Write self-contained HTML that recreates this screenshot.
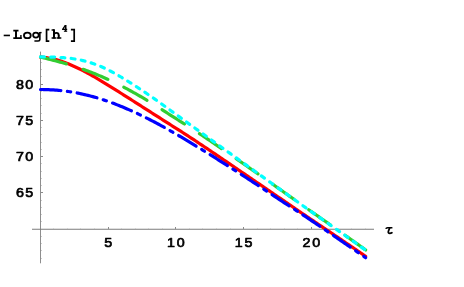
<!DOCTYPE html>
<html><head><meta charset="utf-8"><title>plot</title>
<style>
html,body{margin:0;padding:0;background:#fff;}
body{width:464px;height:287px;overflow:hidden;font-family:"Liberation Sans",sans-serif;}
svg{display:block;}
.tk{font-family:"Liberation Sans",sans-serif;font-weight:normal;font-size:13.6px;letter-spacing:1.6px;fill:#000;stroke:#000;stroke-width:0.7px;stroke-linejoin:round;}
.c{fill:none;stroke-width:3.2;stroke-linecap:round;stroke-linejoin:round;}
</style></head><body>
<svg width="464" height="287" viewBox="0 0 464 287">
<rect width="464" height="287" fill="#fff"/>
<g class="ax">
<rect x="40" y="51.6" width="1" height="211.7" fill="#8e8e8e"/>
<rect x="32" y="228.75" width="342" height="1" fill="#7c7c7c"/>
</g>
<g class="tks">
<rect x="53" y="228" width="1" height="1" fill="#cdcdcd"/>
<rect x="67" y="228" width="1" height="1" fill="#cdcdcd"/>
<rect x="80" y="228" width="1" height="1" fill="#cdcdcd"/>
<rect x="94" y="228" width="1" height="1" fill="#cdcdcd"/>
<rect x="108" y="227" width="1" height="2" fill="#8a8a8a"/>
<rect x="121" y="228" width="1" height="1" fill="#cdcdcd"/>
<rect x="135" y="228" width="1" height="1" fill="#cdcdcd"/>
<rect x="148" y="228" width="1" height="1" fill="#cdcdcd"/>
<rect x="162" y="228" width="1" height="1" fill="#cdcdcd"/>
<rect x="175" y="227" width="1" height="2" fill="#8a8a8a"/>
<rect x="189" y="228" width="1" height="1" fill="#cdcdcd"/>
<rect x="202" y="228" width="1" height="1" fill="#cdcdcd"/>
<rect x="216" y="228" width="1" height="1" fill="#cdcdcd"/>
<rect x="230" y="228" width="1" height="1" fill="#cdcdcd"/>
<rect x="243" y="227" width="1" height="2" fill="#8a8a8a"/>
<rect x="257" y="228" width="1" height="1" fill="#cdcdcd"/>
<rect x="270" y="228" width="1" height="1" fill="#cdcdcd"/>
<rect x="284" y="228" width="1" height="1" fill="#cdcdcd"/>
<rect x="297" y="228" width="1" height="1" fill="#cdcdcd"/>
<rect x="311" y="227" width="1" height="2" fill="#8a8a8a"/>
<rect x="324" y="228" width="1" height="1" fill="#cdcdcd"/>
<rect x="338" y="228" width="1" height="1" fill="#cdcdcd"/>
<rect x="351" y="228" width="1" height="1" fill="#cdcdcd"/>
<rect x="365" y="228" width="1" height="1" fill="#cdcdcd"/>
<rect x="41" y="258" width="1" height="1" fill="#cdcdcd"/>
<rect x="41" y="250" width="1" height="1" fill="#cdcdcd"/>
<rect x="41" y="243" width="1" height="1" fill="#cdcdcd"/>
<rect x="41" y="236" width="1" height="1" fill="#cdcdcd"/>
<rect x="41" y="221" width="1" height="1" fill="#cdcdcd"/>
<rect x="41" y="214" width="1" height="1" fill="#cdcdcd"/>
<rect x="41" y="207" width="1" height="1" fill="#cdcdcd"/>
<rect x="41" y="200" width="1" height="1" fill="#cdcdcd"/>
<rect x="41" y="192" width="2" height="1" fill="#8a8a8a"/>
<rect x="41" y="185" width="1" height="1" fill="#cdcdcd"/>
<rect x="41" y="178" width="1" height="1" fill="#cdcdcd"/>
<rect x="41" y="171" width="1" height="1" fill="#cdcdcd"/>
<rect x="41" y="163" width="1" height="1" fill="#cdcdcd"/>
<rect x="41" y="156" width="2" height="1" fill="#8a8a8a"/>
<rect x="41" y="149" width="1" height="1" fill="#cdcdcd"/>
<rect x="41" y="142" width="1" height="1" fill="#cdcdcd"/>
<rect x="41" y="134" width="1" height="1" fill="#cdcdcd"/>
<rect x="41" y="127" width="1" height="1" fill="#cdcdcd"/>
<rect x="41" y="120" width="2" height="1" fill="#8a8a8a"/>
<rect x="41" y="113" width="1" height="1" fill="#cdcdcd"/>
<rect x="41" y="105" width="1" height="1" fill="#cdcdcd"/>
<rect x="41" y="98" width="1" height="1" fill="#cdcdcd"/>
<rect x="41" y="91" width="1" height="1" fill="#cdcdcd"/>
<rect x="41" y="84" width="2" height="1" fill="#8a8a8a"/>
<rect x="41" y="76" width="1" height="1" fill="#cdcdcd"/>
<rect x="41" y="69" width="1" height="1" fill="#cdcdcd"/>
<rect x="41" y="62" width="1" height="1" fill="#cdcdcd"/>
<rect x="41" y="55" width="1" height="1" fill="#cdcdcd"/>
</g>
<g style="will-change:transform">
<text class="tk" transform="translate(108.95,246.50) scale(1.05,1)" text-anchor="middle">5</text>
<text class="tk" transform="translate(176.70,246.50) scale(1.05,1)" text-anchor="middle">10</text>
<text class="tk" transform="translate(244.45,246.50) scale(1.05,1)" text-anchor="middle">15</text>
<text class="tk" transform="translate(312.20,246.50) scale(1.05,1)" text-anchor="middle">20</text>
<text class="tk" style="letter-spacing:1.25px" transform="translate(34.56,197.35) scale(1.05,1)" text-anchor="end">65</text>
<text class="tk" style="letter-spacing:1.25px" transform="translate(34.56,161.10) scale(1.05,1)" text-anchor="end">70</text>
<text class="tk" style="letter-spacing:1.25px" transform="translate(34.56,124.85) scale(1.05,1)" text-anchor="end">75</text>
<text class="tk" style="letter-spacing:1.25px" transform="translate(34.56,88.60) scale(1.05,1)" text-anchor="end">80</text>
</g>
<g fill="none" stroke="#000" stroke-width="1.7" stroke-linecap="butt" stroke-linejoin="miter">
<path d="M3.7,35.45 H9.95" stroke-width="1.6"/>
<path d="M13.3,30.7 H18.5 M13.3,38.05 H21.6"/>
<path d="M16,30.7 V38" stroke-width="1.95"/>
<path d="M20.9,38.9 V35" stroke-width="1.4"/>
<ellipse cx="27.35" cy="35.4" rx="3.4" ry="2.8" stroke-width="1.8"/>
<ellipse cx="35.9" cy="35" rx="2.8" ry="2.5" stroke-width="1.75"/>
<path d="M39.85,32 V39.4 Q39.85,41 38.1,41 H34.4" stroke-width="1.6"/>
<path d="M39.85,32.6 H41.6" stroke-width="1.4"/>
<path d="M49.3,29.65 H46.55 V41.1 H49.3"/>
<path d="M54,29.2 V38.6 M58.75,35 V38.6" stroke-width="1.95"/>
<path d="M51.6,29.9 H54 M51.6,37.9 H56.2 M56.7,37.9 H61.3" stroke-width="1.45"/>
<path d="M54,35 Q54.1,32.8 56.4,32.8 Q58.75,32.8 58.75,35.3" stroke-width="1.8"/>
<path d="M70.9,29.65 H74.2 V41.1 H70.9"/>
<path d="M65.65,25 V31.4" stroke-width="1.7"/>
<path d="M65.3,25.4 L62.6,29.45 H67.2" stroke-width="1.25" stroke-linejoin="round"/>
<path d="M63.9,31.25 H67.2" stroke-width="1"/>
<path d="M385.9,228.9 Q386.2,227.7 387.6,227.7 H392.4" stroke-width="1.6"/>
<path d="M389.7,227.9 L388.4,231.3 Q387.8,233.3 389.8,233.3 Q390.9,233.3 391.9,232.7" stroke-width="1.75" stroke-linecap="round"/>
</g>
<path class="c" stroke="#ff0000" d="M40.50,57.17 L42.13,57.20 L43.77,57.31 L45.40,57.49 L47.04,57.71 L48.67,57.98 L50.31,58.28 L51.94,58.62 L53.57,58.97 L55.21,59.35 L56.84,59.76 L58.48,60.22 L60.11,60.73 L61.74,61.29 L63.38,61.89 L65.01,62.52 L66.65,63.18 L68.28,63.85 L69.92,64.54 L71.55,65.25 L73.18,65.97 L74.82,66.72 L76.45,67.47 L78.09,68.24 L79.72,69.03 L81.35,69.83 L82.99,70.66 L84.62,71.50 L86.26,72.37 L87.89,73.25 L89.53,74.16 L91.16,75.07 L92.79,76.00 L94.43,76.95 L96.06,77.91 L97.70,78.87 L99.33,79.85 L100.96,80.84 L102.60,81.83 L104.23,82.83 L105.87,83.83 L107.50,84.84 L109.14,85.85 L110.77,86.86 L112.40,87.88 L114.04,88.89 L115.67,89.91 L117.31,90.93 L118.94,91.95 L120.57,92.98 L122.21,94.01 L123.84,95.05 L125.48,96.08 L127.11,97.12 L128.75,98.15 L130.38,99.19 L132.01,100.23 L133.65,101.27 L135.28,102.32 L136.92,103.36 L138.55,104.41 L140.18,105.46 L141.82,106.50 L143.45,107.55 L145.09,108.59 L146.72,109.63 L148.36,110.67 L149.99,111.70 L151.62,112.74 L153.26,113.78 L154.89,114.82 L156.53,115.86 L158.16,116.91 L159.79,117.95 L161.43,119.00 L163.06,120.04 L164.70,121.09 L166.33,122.14 L167.97,123.18 L169.60,124.22 L171.23,125.26 L172.87,126.30 L174.50,127.33 L176.14,128.36 L177.77,129.40 L179.40,130.43 L181.04,131.47 L182.67,132.51 L184.31,133.56 L185.94,134.61 L187.58,135.66 L189.21,136.72 L190.84,137.79 L192.48,138.86 L194.11,139.95 L195.75,141.03 L197.38,142.12 L199.01,143.21 L200.65,144.31 L202.28,145.40 L203.92,146.50 L205.55,147.60 L207.19,148.69 L208.82,149.79 L210.45,150.90 L212.09,152.00 L213.72,153.10 L215.36,154.20 L216.99,155.31 L218.62,156.42 L220.26,157.52 L221.89,158.63 L223.53,159.74 L225.16,160.85 L226.80,161.95 L228.43,163.06 L230.06,164.17 L231.70,165.28 L233.33,166.39 L234.97,167.50 L236.60,168.62 L238.23,169.73 L239.87,170.84 L241.50,171.95 L243.14,173.06 L244.77,174.17 L246.41,175.28 L248.04,176.39 L249.67,177.51 L251.31,178.62 L252.94,179.73 L254.58,180.84 L256.21,181.96 L257.84,183.07 L259.48,184.18 L261.11,185.30 L262.75,186.41 L264.38,187.53 L266.02,188.64 L267.65,189.76 L269.28,190.87 L270.92,191.99 L272.55,193.11 L274.19,194.22 L275.82,195.34 L277.45,196.46 L279.09,197.57 L280.72,198.69 L282.36,199.81 L283.99,200.93 L285.63,202.04 L287.26,203.16 L288.89,204.28 L290.53,205.40 L292.16,206.52 L293.80,207.64 L295.43,208.76 L297.06,209.87 L298.70,210.99 L300.33,212.10 L301.97,213.21 L303.60,214.32 L305.24,215.43 L306.87,216.53 L308.50,217.64 L310.14,218.74 L311.77,219.85 L313.41,220.95 L315.04,222.05 L316.67,223.15 L318.31,224.25 L319.94,225.35 L321.58,226.45 L323.21,227.55 L324.85,228.65 L326.48,229.75 L328.11,230.85 L329.75,231.94 L331.38,233.04 L333.02,234.14 L334.65,235.25 L336.28,236.35 L337.92,237.45 L339.55,238.55 L341.19,239.66 L342.82,240.76 L344.46,241.87 L346.09,242.98 L347.72,244.09 L349.36,245.20 L350.99,246.31 L352.63,247.43 L354.26,248.54 L355.89,249.66 L357.53,250.78 L359.16,251.90 L360.80,253.02 L362.43,254.15 L364.07,255.27 L365.70,256.39"/>
<path class="c" stroke="#32cd32" stroke-dasharray="26.7 17.7" d="M40.50,57.05 L42.13,57.45 L43.77,57.86 L45.40,58.26 L47.04,58.67 L48.67,59.09 L50.31,59.50 L51.94,59.93 L53.57,60.35 L55.21,60.79 L56.84,61.22 L58.48,61.67 L60.11,62.12 L61.74,62.58 L63.38,63.04 L65.01,63.51 L66.65,63.99 L68.28,64.48 L69.92,64.98 L71.55,65.49 L73.18,66.00 L74.82,66.53 L76.45,67.06 L78.09,67.61 L79.72,68.16 L81.35,68.72 L82.99,69.30 L84.62,69.88 L86.26,70.47 L87.89,71.08 L89.53,71.69 L91.16,72.32 L92.79,72.96 L94.43,73.60 L96.06,74.26 L97.70,74.93 L99.33,75.61 L100.96,76.30 L102.60,77.00 L104.23,77.72 L105.87,78.44 L107.50,79.19 L109.14,79.94 L110.77,80.70 L112.40,81.48 L114.04,82.27 L115.67,83.07 L117.31,83.88 L118.94,84.70 L120.57,85.53 L122.21,86.37 L123.84,87.22 L125.48,88.09 L127.11,88.96 L128.75,89.84 L130.38,90.73 L132.01,91.63 L133.65,92.54 L135.28,93.45 L136.92,94.38 L138.55,95.31 L140.18,96.25 L141.82,97.20 L143.45,98.15 L145.09,99.11 L146.72,100.08 L148.36,101.06 L149.99,102.05 L151.62,103.06 L153.26,104.07 L154.89,105.10 L156.53,106.13 L158.16,107.17 L159.79,108.21 L161.43,109.26 L163.06,110.31 L164.70,111.37 L166.33,112.42 L167.97,113.48 L169.60,114.53 L171.23,115.59 L172.87,116.63 L174.50,117.68 L176.14,118.72 L177.77,119.75 L179.40,120.78 L181.04,121.81 L182.67,122.83 L184.31,123.86 L185.94,124.89 L187.58,125.93 L189.21,126.97 L190.84,128.01 L192.48,129.07 L194.11,130.13 L195.75,131.21 L197.38,132.29 L199.01,133.37 L200.65,134.46 L202.28,135.54 L203.92,136.64 L205.55,137.73 L207.19,138.83 L208.82,139.93 L210.45,141.04 L212.09,142.15 L213.72,143.25 L215.36,144.37 L216.99,145.48 L218.62,146.60 L220.26,147.71 L221.89,148.83 L223.53,149.96 L225.16,151.08 L226.80,152.20 L228.43,153.33 L230.06,154.46 L231.70,155.59 L233.33,156.72 L234.97,157.85 L236.60,158.99 L238.23,160.12 L239.87,161.25 L241.50,162.39 L243.14,163.53 L244.77,164.66 L246.41,165.80 L248.04,166.94 L249.67,168.08 L251.31,169.22 L252.94,170.37 L254.58,171.51 L256.21,172.65 L257.84,173.80 L259.48,174.94 L261.11,176.09 L262.75,177.24 L264.38,178.38 L266.02,179.53 L267.65,180.68 L269.28,181.83 L270.92,182.98 L272.55,184.13 L274.19,185.29 L275.82,186.44 L277.45,187.59 L279.09,188.75 L280.72,189.90 L282.36,191.06 L283.99,192.21 L285.63,193.37 L287.26,194.53 L288.89,195.69 L290.53,196.84 L292.16,198.00 L293.80,199.16 L295.43,200.32 L297.06,201.48 L298.70,202.64 L300.33,203.79 L301.97,204.94 L303.60,206.10 L305.24,207.25 L306.87,208.40 L308.50,209.55 L310.14,210.70 L311.77,211.84 L313.41,212.99 L315.04,214.14 L316.67,215.28 L318.31,216.43 L319.94,217.57 L321.58,218.72 L323.21,219.86 L324.85,221.01 L326.48,222.16 L328.11,223.30 L329.75,224.45 L331.38,225.60 L333.02,226.75 L334.65,227.89 L336.28,229.04 L337.92,230.20 L339.55,231.35 L341.19,232.50 L342.82,233.66 L344.46,234.81 L346.09,235.97 L347.72,237.13 L349.36,238.29 L350.99,239.46 L352.63,240.62 L354.26,241.79 L355.89,242.96 L357.53,244.13 L359.16,245.31 L360.80,246.48 L362.43,247.65 L364.07,248.83 L365.70,250.00"/>
<path class="c" stroke="#00ffff" stroke-dasharray="3.9 6.34" d="M40.50,56.85 L42.13,56.88 L43.77,56.91 L45.40,56.94 L47.04,56.98 L48.67,57.02 L50.31,57.07 L51.94,57.12 L53.57,57.18 L55.21,57.24 L56.84,57.32 L58.48,57.40 L60.11,57.48 L61.74,57.58 L63.38,57.69 L65.01,57.81 L66.65,57.96 L68.28,58.12 L69.92,58.30 L71.55,58.51 L73.18,58.73 L74.82,58.98 L76.45,59.25 L78.09,59.55 L79.72,59.88 L81.35,60.23 L82.99,60.60 L84.62,61.01 L86.26,61.44 L87.89,61.89 L89.53,62.38 L91.16,62.89 L92.79,63.43 L94.43,64.00 L96.06,64.59 L97.70,65.22 L99.33,65.88 L100.96,66.56 L102.60,67.27 L104.23,68.01 L105.87,68.78 L107.50,69.57 L109.14,70.39 L110.77,71.23 L112.40,72.10 L114.04,72.99 L115.67,73.91 L117.31,74.84 L118.94,75.78 L120.57,76.75 L122.21,77.72 L123.84,78.71 L125.48,79.71 L127.11,80.72 L128.75,81.74 L130.38,82.78 L132.01,83.82 L133.65,84.87 L135.28,85.93 L136.92,86.99 L138.55,88.07 L140.18,89.15 L141.82,90.23 L143.45,91.32 L145.09,92.42 L146.72,93.52 L148.36,94.64 L149.99,95.76 L151.62,96.89 L153.26,98.03 L154.89,99.17 L156.53,100.33 L158.16,101.49 L159.79,102.65 L161.43,103.83 L163.06,105.00 L164.70,106.18 L166.33,107.36 L167.97,108.55 L169.60,109.74 L171.23,110.93 L172.87,112.12 L174.50,113.32 L176.14,114.51 L177.77,115.70 L179.40,116.90 L181.04,118.09 L182.67,119.28 L184.31,120.46 L185.94,121.65 L187.58,122.83 L189.21,124.01 L190.84,125.19 L192.48,126.36 L194.11,127.53 L195.75,128.70 L197.38,129.87 L199.01,131.04 L200.65,132.21 L202.28,133.39 L203.92,134.56 L205.55,135.73 L207.19,136.91 L208.82,138.08 L210.45,139.26 L212.09,140.43 L213.72,141.61 L215.36,142.78 L216.99,143.96 L218.62,145.14 L220.26,146.31 L221.89,147.49 L223.53,148.67 L225.16,149.84 L226.80,151.02 L228.43,152.20 L230.06,153.38 L231.70,154.55 L233.33,155.73 L234.97,156.91 L236.60,158.08 L238.23,159.26 L239.87,160.44 L241.50,161.62 L243.14,162.79 L244.77,163.97 L246.41,165.15 L248.04,166.33 L249.67,167.50 L251.31,168.68 L252.94,169.85 L254.58,171.03 L256.21,172.21 L257.84,173.38 L259.48,174.56 L261.11,175.73 L262.75,176.91 L264.38,178.08 L266.02,179.26 L267.65,180.43 L269.28,181.61 L270.92,182.78 L272.55,183.96 L274.19,185.13 L275.82,186.31 L277.45,187.48 L279.09,188.65 L280.72,189.83 L282.36,191.00 L283.99,192.18 L285.63,193.35 L287.26,194.52 L288.89,195.70 L290.53,196.87 L292.16,198.04 L293.80,199.22 L295.43,200.39 L297.06,201.56 L298.70,202.73 L300.33,203.89 L301.97,205.06 L303.60,206.22 L305.24,207.38 L306.87,208.54 L308.50,209.70 L310.14,210.85 L311.77,212.01 L313.41,213.16 L315.04,214.32 L316.67,215.47 L318.31,216.62 L319.94,217.77 L321.58,218.92 L323.21,220.07 L324.85,221.22 L326.48,222.37 L328.11,223.52 L329.75,224.67 L331.38,225.82 L333.02,226.97 L334.65,228.12 L336.28,229.27 L337.92,230.42 L339.55,231.57 L341.19,232.73 L342.82,233.88 L344.46,235.04 L346.09,236.20 L347.72,237.35 L349.36,238.51 L350.99,239.68 L352.63,240.84 L354.26,242.01 L355.89,243.17 L357.53,244.34 L359.16,245.51 L360.80,246.68 L362.43,247.85 L364.07,249.02 L365.70,250.19"/>
<path class="c" stroke="#0000ff" stroke-dasharray="20.4 6.53 3.4 6.53" d="M40.50,89.49 L42.13,89.52 L43.77,89.55 L45.40,89.59 L47.04,89.64 L48.67,89.71 L50.31,89.78 L51.94,89.87 L53.57,89.97 L55.21,90.08 L56.84,90.21 L58.48,90.35 L60.11,90.51 L61.74,90.68 L63.38,90.86 L65.01,91.06 L66.65,91.27 L68.28,91.50 L69.92,91.74 L71.55,91.99 L73.18,92.27 L74.82,92.55 L76.45,92.85 L78.09,93.17 L79.72,93.49 L81.35,93.84 L82.99,94.20 L84.62,94.57 L86.26,94.95 L87.89,95.35 L89.53,95.77 L91.16,96.19 L92.79,96.64 L94.43,97.09 L96.06,97.56 L97.70,98.05 L99.33,98.55 L100.96,99.06 L102.60,99.58 L104.23,100.12 L105.87,100.67 L107.50,101.23 L109.14,101.81 L110.77,102.40 L112.40,103.00 L114.04,103.61 L115.67,104.23 L117.31,104.87 L118.94,105.52 L120.57,106.17 L122.21,106.84 L123.84,107.52 L125.48,108.21 L127.11,108.92 L128.75,109.63 L130.38,110.35 L132.01,111.08 L133.65,111.82 L135.28,112.57 L136.92,113.33 L138.55,114.10 L140.18,114.88 L141.82,115.67 L143.45,116.47 L145.09,117.27 L146.72,118.09 L148.36,118.91 L149.99,119.74 L151.62,120.58 L153.26,121.42 L154.89,122.28 L156.53,123.15 L158.16,124.02 L159.79,124.90 L161.43,125.79 L163.06,126.68 L164.70,127.59 L166.33,128.50 L167.97,129.41 L169.60,130.34 L171.23,131.27 L172.87,132.20 L174.50,133.14 L176.14,134.09 L177.77,135.04 L179.40,136.00 L181.04,136.96 L182.67,137.93 L184.31,138.90 L185.94,139.88 L187.58,140.86 L189.21,141.84 L190.84,142.83 L192.48,143.82 L194.11,144.82 L195.75,145.81 L197.38,146.82 L199.01,147.82 L200.65,148.83 L202.28,149.84 L203.92,150.85 L205.55,151.86 L207.19,152.88 L208.82,153.89 L210.45,154.91 L212.09,155.94 L213.72,156.96 L215.36,157.98 L216.99,159.01 L218.62,160.03 L220.26,161.06 L221.89,162.09 L223.53,163.12 L225.16,164.15 L226.80,165.18 L228.43,166.22 L230.06,167.26 L231.70,168.30 L233.33,169.35 L234.97,170.40 L236.60,171.44 L238.23,172.50 L239.87,173.55 L241.50,174.60 L243.14,175.66 L244.77,176.72 L246.41,177.78 L248.04,178.84 L249.67,179.91 L251.31,180.97 L252.94,182.04 L254.58,183.11 L256.21,184.18 L257.84,185.25 L259.48,186.32 L261.11,187.40 L262.75,188.48 L264.38,189.56 L266.02,190.64 L267.65,191.72 L269.28,192.80 L270.92,193.88 L272.55,194.97 L274.19,196.06 L275.82,197.14 L277.45,198.23 L279.09,199.32 L280.72,200.41 L282.36,201.50 L283.99,202.57 L285.63,203.64 L287.26,204.70 L288.89,205.76 L290.53,206.82 L292.16,207.87 L293.80,208.92 L295.43,209.98 L297.06,211.04 L298.70,212.10 L300.33,213.17 L301.97,214.24 L303.60,215.33 L305.24,216.42 L306.87,217.52 L308.50,218.62 L310.14,219.72 L311.77,220.82 L313.41,221.93 L315.04,223.03 L316.67,224.14 L318.31,225.25 L319.94,226.36 L321.58,227.47 L323.21,228.58 L324.85,229.69 L326.48,230.80 L328.11,231.92 L329.75,233.03 L331.38,234.15 L333.02,235.26 L334.65,236.38 L336.28,237.49 L337.92,238.61 L339.55,239.73 L341.19,240.85 L342.82,241.97 L344.46,243.09 L346.09,244.21 L347.72,245.33 L349.36,246.45 L350.99,247.58 L352.63,248.70 L354.26,249.82 L355.89,250.95 L357.53,252.07 L359.16,253.20 L360.80,254.33 L362.43,255.45 L364.07,256.58 L365.70,257.71"/>
</svg>
</body></html>
